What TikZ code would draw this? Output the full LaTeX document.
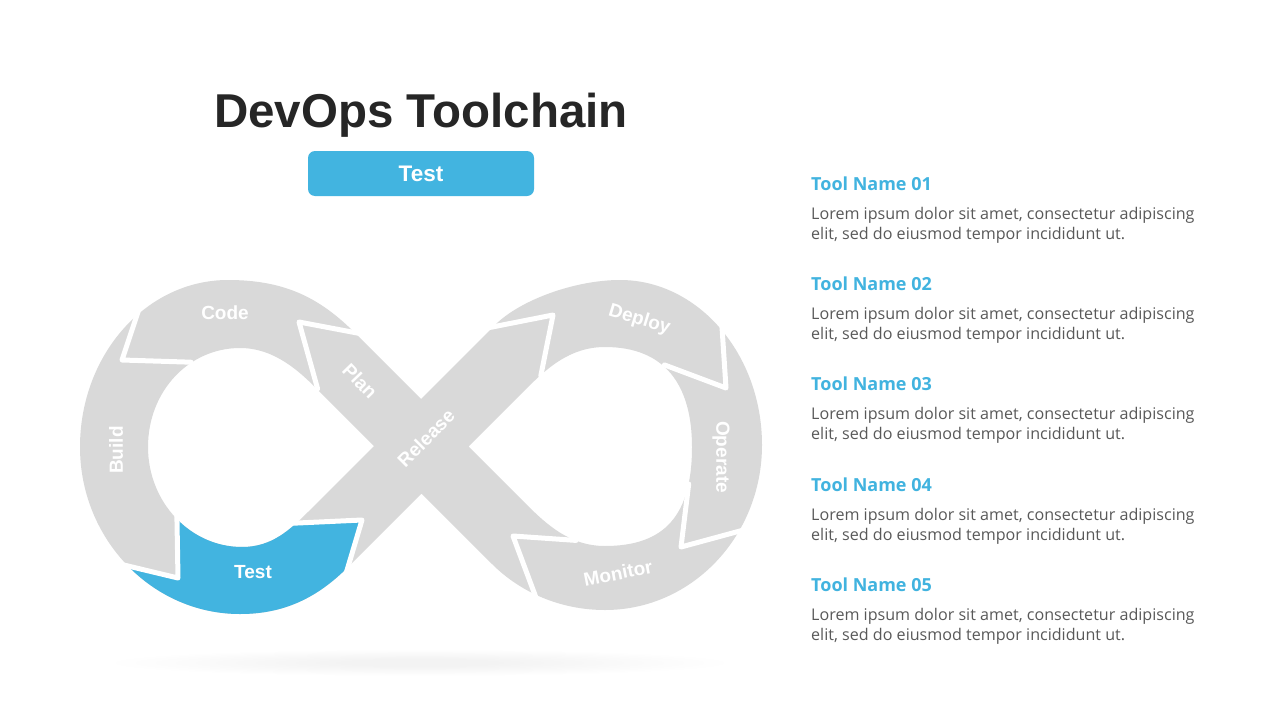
\documentclass[tikz,border=0pt]{standalone}
\usepackage{fontspec}
\setmainfont{Liberation Sans}
\newfontfamily\osans{Open Sans}
\definecolor{band}{HTML}{D9D9D9}
\definecolor{accent}{HTML}{42B4E0}
\definecolor{headc}{HTML}{41B3DF}
\definecolor{titlec}{HTML}{262626}
\definecolor{bodyc}{HTML}{595959}
\tikzset{
  infpath/.style={insert path={
  (421,399) -- (355,333) .. controls (320,298) and (285,280) .. (228,280)
  .. controls (146,280) and (80,355) .. (80,447)
  .. controls (80,539) and (152,614) .. (240,614)
  .. controls (285,614) and (318,597) .. (348,567)
  -- (421.5,493.5) -- (492,564)
  .. controls (520,592) and (560,610) .. (605,610)
  .. controls (692,610) and (762,536) .. (762,445)
  .. controls (762,354) and (698,280) .. (620,280)
  .. controls (575,280) and (520,300) .. (495,325)
  -- cycle
  (374,446) -- (318,390) .. controls (300,372) and (275,348) .. (240,348)
  .. controls (189,348) and (148,391) .. (148,447)
  .. controls (148,502) and (190,547) .. (242,547)
  .. controls (272,547) and (290,530) .. (310,510) -- cycle
  (468.5,446.5) -- (525,390) .. controls (547,368) and (570,347) .. (605,347)
  .. controls (665,347) and (692,385) .. (692,447)
  .. controls (692,515) and (665,546) .. (605,546)
  .. controls (570,546) and (547,525) .. (525,503) -- cycle}},
  lbl/.style={text=white, font=\fontsize{19}{21}\selectfont\bfseries, text height=13.5pt, text depth=0pt, inner sep=0pt},
  sep/.style={draw=white, line width=5pt, line join=round, line cap=round},
  head/.style={text=headc, font=\osans\bfseries\fontsize{18}{20}\selectfont, inner sep=0pt, anchor=base west},
  body/.style={text=bodyc, font=\osans\fontsize{16.1}{20}\selectfont, inner sep=0pt, anchor=base west}
}
\begin{document}
\begin{tikzpicture}[x=1pt,y=-1pt]
\useasboundingbox (0,0) rectangle (1280,720);
\fill[white] (0,0) rectangle (1280,720);
% shadow
\foreach \i in {0,...,11} {\fill[black, opacity=0.0045] (420,663) ellipse ({305-\i*20} and {13-\i*0.8});}
% infinity band
\fill[band, even odd rule, infpath];
\begin{scope}
\clip (100,559) -- (178,578) -- (177,480) -- (270,480) -- (270,524) -- (362,520) -- (338,600) -- (338,650) -- (100,650) -- cycle;
\fill[accent, even odd rule, infpath];
\end{scope}
% chevron separators
\draw[sep] (362.9,334.1) -- (299,322) -- (317.6,388.8);
\draw[sep] (139.9,306.3) -- (122,360) -- (191,362.2);
\draw[sep] (122.2,564.6) -- (178,578) -- (176.9,516);
\draw[sep] (291,523.3) -- (362,520) -- (343.3,582.7);
\draw[sep] (481.1,329.2) -- (553,315) -- (540.8,375.9);
\draw[sep] (721.6,321) -- (726,388) -- (664.4,364.9);
\draw[sep] (745.8,529.4) -- (681,547) -- (688.7,484);
\draw[sep] (576,540.4) -- (513,536) -- (537.1,600.6);
% labels
\node[lbl] (code) at (225,313) {Code};
\node[lbl, rotate=90] (build) at (116,450) {Build};
\node[lbl] (test) at (253,572) {Test};
\node[lbl, rotate=-46] (plan) at (360,381) {Plan};
\node[lbl, rotate=45] (release) at (426,438) {Release};
\node[lbl, rotate=-17] (deploy) at (640,318) {Deploy};
\node[lbl, rotate=-90] (operate) at (723,457) {Operate};
\node[lbl, rotate=11] (monitor) at (618,573) {Monitor};
% title and button
\node[font=\fontsize{47.5}{50}\selectfont\bfseries, text=titlec, anchor=base, inner sep=0pt] (title) at (421,127.5) {DevOps Toolchain};
\node[fill=accent, rounded corners=7pt, minimum width=226pt, minimum height=45pt, inner sep=0pt, text=white, font=\fontsize{22.5}{24}\selectfont\bfseries] (btn) at (421,173.5) {Test};
% right column
\foreach \n/\y in {01/190,02/290,03/390,04/491,05/591} {
  \node[head] (h\n) at (811,\y) {Tool Name \n};
  \node[body] (ba\n) at (811,\y+29) {Lorem ipsum dolor sit amet, consectetur adipiscing};
  \node[body] (bb\n) at (811,\y+49) {elit, sed do eiusmod tempor incididunt ut.};
}
\end{tikzpicture}
\end{document}
